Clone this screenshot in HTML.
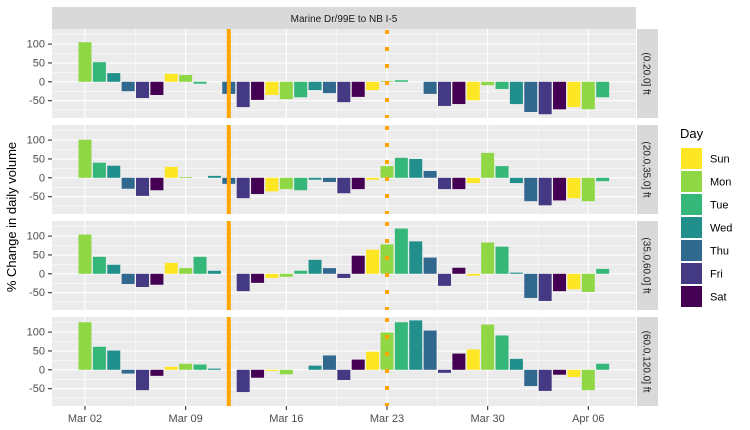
<!DOCTYPE html>
<html><head><meta charset="utf-8">
<style>
html,body{margin:0;padding:0;background:#fff;}
svg{display:block;font-family:"Liberation Sans",sans-serif;}
</style></head>
<body>
<svg id="chart" width="750" height="430" viewBox="0 0 750 430" xmlns="http://www.w3.org/2000/svg">
<rect x="0" y="0" width="750" height="430" fill="#fff"/>
<rect x="52" y="7" width="584" height="22" fill="#D9D9D9"/>
<text x="344" y="22" font-size="10" fill="#1A1A1A" text-anchor="middle">Marine Dr/99E to NB I-5</text>
<text transform="translate(16,217) rotate(-90)" font-size="13" fill="#000" text-anchor="middle">% Change in daily volume</text>
<g id="panels"></g>
<g id="legend">
<text x="680" y="138" font-size="13" fill="#000">Day</text>
</g>
</svg>
<script>
const dayNames = ["Sun","Mon","Tue","Wed","Thu","Fri","Sat"];
const dayColors = ["#FDE725","#8FD744","#35B779","#21908C","#31688E","#443A83","#440154"];
const panelLabels = ["(0.20.0] ft","(20.0,35.0] ft","(35.0,60.0] ft","(60.0,120.0] ft"];
const xTickLabels = ["Mar 02","Mar 09","Mar 16","Mar 23","Mar 30","Apr 06"];
const xTickDays = [0,7,14,21,28,35];
const yTicks = [100,50,0,-50];
const startDow = 1; // Mar 02 is Monday
const solidLineDay = 10;
const dashedLineDay = 21;
const seriesP1 = [105,52,23,-25,-43,-35,21,18,-5,0,-32,-67,-48,-35,-46,-41,-22,-30,-54,-40,-22,2,4,0,-32,-64,-59,-49,-9,-19,-59,-80,-86,-73,-67,-73,-41];
const seriesP2 = [101,40,32,-29,-48,-33,29,2,0,5,-16,-54,-43,-36,-30,-33,-5,-11,-41,-30,-5,31,53,50,18,-30,-30,-14,66,31,-14,-62,-73,-60,-54,-62,-9];
const seriesP3 = [104,45,24,-27,-35,-29,29,15,45,8,0,-46,-24,-11,-8,8,37,15,-11,48,64,78,120,86,43,-32,16,-5,83,72,3,-64,-72,-46,-41,-48,13];
const seriesP4 = [126,61,51,-10,-54,-16,8,16,14,3,0,-59,-21,-3,-12,0,11,38,-27,27,48,99,126,131,104,-8,43,54,120,91,29,-43,-56,-13,-19,-54,16];
const allSeries = [seriesP1,seriesP2,seriesP3,seriesP4];

const NS="http://www.w3.org/2000/svg";
const PX0=52, PX1=636;
const panelTops=[29,125,221,317], PH=89;
const YMIN=-96, YMAX=140;
const xScale = d => 85 + d*14.38;
const yScale = (v,p) => panelTops[p] + (YMAX - v)/(YMAX-YMIN)*PH;
function mk(tag, attrs, parent){const e=document.createElementNS(NS,tag);for(const k in attrs)e.setAttribute(k,attrs[k]);parent.appendChild(e);return e;}
const g=document.getElementById('panels');
allSeries.forEach((series,p)=>{
  const pg=mk('g',{},g);
  
  
  mk('rect',{x:PX0,y:panelTops[p],width:PX1-PX0,height:PH,fill:'#EBEBEB'},pg);
  [125,75,25,-25,-75].forEach(v=>mk('line',{x1:PX0,x2:PX1,y1:yScale(v,p),y2:yScale(v,p),stroke:'#fff','stroke-width':0.55},pg));
  for(let i=0;i<xTickDays.length;i++){const x=xScale(xTickDays[i]-3.5);mk('line',{x1:x,x2:x,y1:panelTops[p],y2:panelTops[p]+PH,stroke:'#fff','stroke-width':0.55},pg);}
  {const x=xScale(38.5); if(x<PX1) mk('line',{x1:x,x2:x,y1:panelTops[p],y2:panelTops[p]+PH,stroke:'#fff','stroke-width':0.55},pg);}
  yTicks.forEach(v=>{const y=yScale(v,p);mk('line',{x1:PX0,x2:PX1,y1:y,y2:y,stroke:'#fff','stroke-width':1.1},pg);
    const t=mk('text',{x:45,y:y+3.5,'font-size':11,fill:'#4D4D4D','text-anchor':'end'},pg);t.textContent=v;
    
    
    mk('line',{x1:48,x2:52,y1:y,y2:y,stroke:'#333','stroke-width':1.1},pg);});
  xTickDays.forEach(d=>{const x=xScale(d);mk('line',{x1:x,x2:x,y1:panelTops[p],y2:panelTops[p]+PH,stroke:'#fff','stroke-width':1.1},pg);});
  series.forEach((v,d)=>{
    if(v===0) return;
    const y0=yScale(0,p), y1=yScale(v,p);
    const r=mk('rect',{x:xScale(d)-6.5,y:Math.min(y0,y1),width:13,height:Math.abs(y1-y0),fill:dayColors[(startDow+d)%7]},pg);
    
    
  });
  const sl=mk('line',{x1:xScale(solidLineDay),x2:xScale(solidLineDay),y1:panelTops[p],y2:panelTops[p]+PH,stroke:'#FFA500','stroke-width':4},pg);
  
  
  const dl=mk('line',{x1:xScale(dashedLineDay),x2:xScale(dashedLineDay),y1:panelTops[p]+1,y2:panelTops[p]+PH,stroke:'#FFA500','stroke-width':4,'stroke-dasharray':'4 13'},pg);
  
  
  const sr=mk('rect',{x:637,y:panelTops[p],width:21,height:PH,fill:'#D9D9D9'},pg);
  
  
  const cy=panelTops[p]+PH/2;
  const st=mk('text',{x:0,y:0,'font-size':10,fill:'#1A1A1A','text-anchor':'middle',transform:`translate(643.5,${cy}) rotate(90)`},pg);
  st.textContent=panelLabels[p];
  
  
});
xTickDays.forEach((d,i)=>{const x=xScale(d);
  mk('line',{x1:x,x2:x,y1:406,y2:410,stroke:'#333','stroke-width':1.1},g);
  const t=mk('text',{x:x,y:422,'font-size':11,fill:'#4D4D4D','text-anchor':'middle'},g);t.textContent=xTickLabels[i];
  
  
});
const lg=document.getElementById('legend');
dayNames.forEach((n,i)=>{
  const y=148+i*23;
  const k=mk('rect',{x:681,y:y,width:21,height:21,fill:dayColors[i]},lg);
  
  
  const t=mk('text',{x:710,y:y+14.5,'font-size':11,fill:'#000'},lg);t.textContent=n;
  
  
});
</script>
</body></html>
